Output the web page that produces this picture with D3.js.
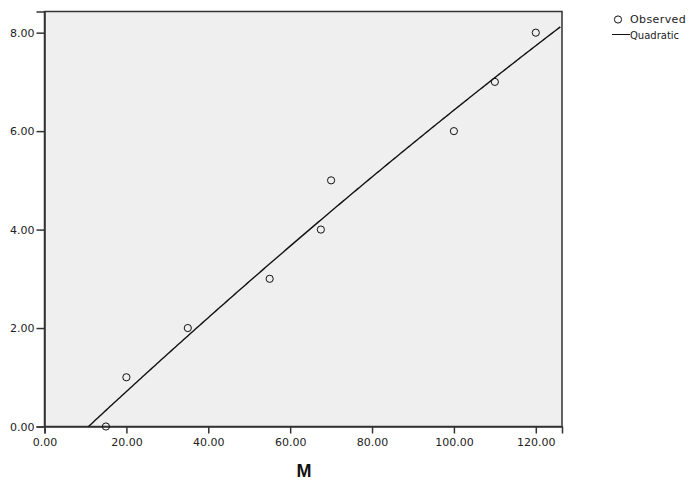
<!DOCTYPE html>
<html><head><meta charset="utf-8">
<script src="https://cdn.jsdelivr.net/npm/d3@7"></script>
<style>body{margin:0;background:#fff}svg{display:block}</style>
</head><body>
<svg id="c" width="690" height="483"></svg>
<script>
const obsX = [15, 20, 35, 55, 67.5, 70, 100, 110, 120];
const obsY = [0, 1, 2, 3, 4, 5, 6, 7, 8];
const xTicks = [0, 20, 40, 60, 80, 100, 120];
const yTicks = [0, 2, 4, 6, 8];
const xTitle = "M";
const legendLabels = ["Observed", "Quadratic"];

// quadratic least squares fit of observed data
function quadFit(xs, ys) {
  const n = xs.length;
  let S = [0,0,0,0,0], T = [0,0,0];
  for (let i = 0; i < n; i++) {
    for (let k = 0; k < 5; k++) S[k] += Math.pow(xs[i], k);
    for (let k = 0; k < 3; k++) T[k] += ys[i] * Math.pow(xs[i], k);
  }
  const A = [[S[0],S[1],S[2],T[0]],[S[1],S[2],S[3],T[1]],[S[2],S[3],S[4],T[2]]];
  for (let i = 0; i < 3; i++) {
    for (let j = i+1; j < 3; j++) {
      const f = A[j][i] / A[i][i];
      for (let k = i; k < 4; k++) A[j][k] -= f * A[i][k];
    }
  }
  const b = [0,0,0];
  for (let i = 2; i >= 0; i--) {
    let s = A[i][3];
    for (let k = i+1; k < 3; k++) s -= A[i][k] * b[k];
    b[i] = s / A[i][i];
  }
  return b;
}
const coef = quadFit(obsX, obsY);

const svg = d3.select("#c");
const L = 44.5, R = 562, T = 11.5, B = 426.5;
const x = d3.scaleLinear().domain([0, 126.4]).range([L, R]);
const y = d3.scaleLinear().domain([0, 8.43]).range([B, T]);

svg.append("rect").attr("x", L).attr("y", T).attr("width", R - L).attr("height", B - T)
  .attr("fill", "#efefef").attr("stroke", "#333").attr("stroke-width", 1.5);

const font = "DejaVu Sans, Verdana, sans-serif";

const xa = svg.append("g").attr("transform", `translate(0,${B})`)
  .call(d3.axisBottom(x).tickValues(xTicks).tickFormat(d3.format(".2f")).tickSize(7).tickPadding(5));
const ya = svg.append("g").attr("transform", `translate(${L},0)`)
  .call(d3.axisLeft(y).tickValues(yTicks).tickFormat(d3.format(".2f")).tickSize(8).tickPadding(2));
[xa, ya].forEach(a => {
  a.select(".domain").attr("stroke", "#333").attr("stroke-width", 1.5);
  a.selectAll(".tick line").attr("stroke", "#333").attr("stroke-width", 1.5);
  a.selectAll(".tick text").attr("fill", "#222").style("font-family", font).style("font-size", "11px");
});

// fitted curve
const clipId = "plotclip";
svg.append("clipPath").attr("id", clipId).append("rect")
  .attr("x", L).attr("y", T).attr("width", R - L).attr("height", B - T);
const xs = d3.range(0, 126.4 + 0.001, 0.5);
const line = d3.line().x(d => x(d)).y(d => y(coef[0] + coef[1]*d + coef[2]*d*d));
svg.append("path").datum(xs).attr("d", line).attr("fill", "none")
  .attr("stroke", "#111").attr("stroke-width", 1.4).attr("clip-path", `url(#${clipId})`);

// observed points
svg.append("g").selectAll("circle").data(obsX.map((v, i) => [v, obsY[i]])).join("circle")
  .attr("cx", d => x(d[0])).attr("cy", d => y(d[1])).attr("r", 3.6)
  .attr("fill", "none").attr("stroke", "#111").attr("stroke-width", 1);

// axis title
svg.append("text").attr("x", 304).attr("y", 476.5).attr("text-anchor", "middle")
  .style("font-family", "Liberation Sans, Arial, sans-serif").style("font-size", "18px")
  .style("font-weight", "bold").attr("fill", "#111").text(xTitle);

// legend
const lg = svg.append("g");
lg.append("circle").attr("cx", 618).attr("cy", 19.5).attr("r", 3.6)
  .attr("fill", "none").attr("stroke", "#111").attr("stroke-width", 1);
lg.append("text").attr("x", 630).attr("y", 23.3).style("font-family", font)
  .style("font-size", "11px").style("letter-spacing", "0.4px").attr("fill", "#222").text(legendLabels[0]);
lg.append("line").attr("x1", 612).attr("x2", 630).attr("y1", 34.5).attr("y2", 34.5)
  .attr("stroke", "#111").attr("stroke-width", 1);
lg.append("text").attr("x", 630).attr("y", 39.3).style("font-family", font)
  .style("font-size", "10px").attr("fill", "#222").text(legendLabels[1]);
</script>
</body></html>
